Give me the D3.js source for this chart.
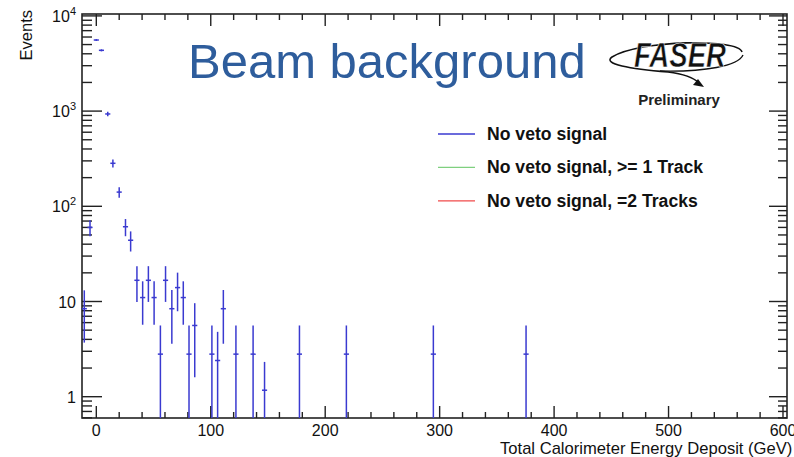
<!DOCTYPE html>
<html>
<head>
<meta charset="utf-8">
<script src="https://cdn.jsdelivr.net/npm/d3@7"></script>
<style>
  html, body { margin: 0; padding: 0; background: #fff; }
  svg { display: block; font-family: "Liberation Sans", Arial, Helvetica, sans-serif; }
</style>
</head>
<body>
<svg id="chart" width="794" height="457"></svg>
<script>
// Total calorimeter energy deposit for events with no veto signal (weighted counts)
const energyGeV = [-10.5, -5.5, 0, 4.5, 10, 14.5, 20, 25.5, 30, 35.5, 40.5, 45.5, 50.5, 56, 60.5,
                   66, 71, 76, 81, 86, 101, 106, 111, 122, 137, 147, 177.5, 218.5, 294.5, 375.5];
const events    = [8.4, 60, 5580, 4350, 933, 283, 141, 61, 44, 16.7, 11, 16.7, 11, 2.8, 16.7,
                   8.4, 14, 11, 2.8, 5.6, 2.8, 2.4, 8.4, 2.8, 2.8, 1.17, 2.8, 2.8, 2.8, 2.8];
const eventErr  = [4.7, 11.5, 125, 110, 51, 28, 18, 12.5, 10.5, 6.8, 5.3, 6.8, 5.3, 2.8, 6.8,
                   4.8, 6.1, 5.3, 2.8, 4.0, 2.8, 2.4, 4.8, 2.8, 2.8, 1.15, 2.8, 2.8, 2.8, 2.8];
const binWidth = 4.5;

const xDomain = [-12.5, 603.5];
const yDomain = [0.5974, 10470];
const xMajorTicks = [0, 100, 200, 300, 400, 500, 600];
const yMajorTicks = [1, 10, 100, 1000, 10000];
const yTickText = [["1", ""], ["10", ""], ["10", "2"], ["10", "3"], ["10", "4"]];

const legendLabels = ["No veto signal", "No veto signal, >= 1 Track", "No veto signal, =2 Tracks"];
const legendColors = ["#3a3ad0", "#7fd07f", "#f04a4a"];

const frame = { left: 82, right: 787, top: 14, bottom: 418 };
const svg = d3.select("#chart");

const x = d3.scaleLinear().domain(xDomain).range([frame.left, frame.right]);
const y = d3.scaleLog().domain(yDomain).range([frame.bottom, frame.top]);

svg.append("defs").append("clipPath").attr("id", "plotClip")
  .append("rect")
  .attr("x", frame.left).attr("y", frame.top)
  .attr("width", frame.right - frame.left).attr("height", frame.bottom - frame.top);

const axisColor = "#222";

// Tick positions
const xMinorTicks = d3.range(0, 601, 20).filter(v => v % 100 !== 0);
const yMinorTicks = [];
for (let e = -1; e < 4; e++) {
  for (let m = 2; m <= 9; m++) {
    const v = m * Math.pow(10, e);
    if (v >= yDomain[0] && v <= yDomain[1]) yMinorTicks.push(v);
  }
}

const ticks = svg.append("g").attr("stroke", axisColor).attr("stroke-width", 1.4);

// bottom & top ticks
xMajorTicks.forEach(v => {
  ticks.append("line").attr("x1", x(v)).attr("x2", x(v)).attr("y1", frame.bottom).attr("y2", frame.bottom - 12);
  ticks.append("line").attr("x1", x(v)).attr("x2", x(v)).attr("y1", frame.top).attr("y2", frame.top + 12);
});
xMinorTicks.forEach(v => {
  ticks.append("line").attr("x1", x(v)).attr("x2", x(v)).attr("y1", frame.bottom).attr("y2", frame.bottom - 6);
  ticks.append("line").attr("x1", x(v)).attr("x2", x(v)).attr("y1", frame.top).attr("y2", frame.top + 6);
});
// left & right ticks
yMajorTicks.forEach(v => {
  ticks.append("line").attr("y1", y(v)).attr("y2", y(v)).attr("x1", frame.left).attr("x2", frame.left + 20);
  ticks.append("line").attr("y1", y(v)).attr("y2", y(v)).attr("x1", frame.right).attr("x2", frame.right - 18);
});
yMinorTicks.forEach(v => {
  ticks.append("line").attr("y1", y(v)).attr("y2", y(v)).attr("x1", frame.left).attr("x2", frame.left + 10);
  ticks.append("line").attr("y1", y(v)).attr("y2", y(v)).attr("x1", frame.right).attr("x2", frame.right - 9);
});

// Frame
svg.append("rect")
  .attr("x", frame.left).attr("y", frame.top)
  .attr("width", frame.right - frame.left).attr("height", frame.bottom - frame.top)
  .attr("fill", "none").attr("stroke", axisColor).attr("stroke-width", 1.6);

// Tick labels
svg.append("g").selectAll("text").data(xMajorTicks).join("text")
  .attr("x", d => x(d)).attr("y", 436)
  .attr("text-anchor", "middle").attr("font-size", 16).attr("fill", "#111")
  .text(d => d);

const yl = svg.append("g").selectAll("text").data(yMajorTicks).join("text")
  .attr("x", 76).attr("y", d => y(d) + 6)
  .attr("text-anchor", "end").attr("font-size", 16).attr("fill", "#111");
yl.each(function(d, i) {
  const t = d3.select(this);
  const [base, sup] = yTickText[i];
  t.append("tspan").text(base);
  if (sup) t.append("tspan").attr("font-size", 11).attr("dy", -7).text(sup);
});

// Axis titles
svg.append("text")
  .attr("transform", "translate(32,10) rotate(-90)")
  .attr("text-anchor", "end").attr("font-size", 16.5).attr("fill", "#111")
  .text("Events");
svg.append("text")
  .attr("x", 500).attr("y", 454)
  .attr("font-size", 16.6).attr("fill", "#111")
  .text("Total Calorimeter Energy Deposit (GeV)");

// Data points with error bars
const pts = svg.append("g").attr("clip-path", "url(#plotClip)")
  .attr("stroke", legendColors[0]).attr("stroke-width", 1.5);
energyGeV.forEach((e, i) => {
  const n = events[i], err = eventErr[i];
  const lo = n - err > yDomain[0] ? n - err : yDomain[0] * 0.5;
  const hi = n + err;
  pts.append("line")
    .attr("x1", x(e)).attr("x2", x(e))
    .attr("y1", y(lo)).attr("y2", y(hi));
  pts.append("line")
    .attr("x1", x(e - binWidth / 2)).attr("x2", x(e + binWidth / 2))
    .attr("y1", y(n)).attr("y2", y(n));
});

// Title
svg.append("text")
  .attr("x", 188).attr("y", 78)
  .attr("font-size", 49).attr("fill", "#2e5d9c")
  .text("Beam background");

// FASER logo
const logo = svg.append("g");
logo.append("path")
  .attr("d", "M 742 52 C 738 38, 640 40, 612 57 C 602 64, 630 69, 668 72 C 684 74, 694 78, 699 83")
  .attr("fill", "none").attr("stroke", "#111").attr("stroke-width", 1.6);
logo.append("path")
  .attr("d", "M 704 87 L 693 85 L 698 79 Z")
  .attr("fill", "#111");
logo.append("path")
  .attr("d", "M 660 71 C 705 72, 738 66, 743 55")
  .attr("fill", "none").attr("stroke", "#111").attr("stroke-width", 1.4);
logo.append("text")
  .attr("x", 634).attr("y", 67)
  .attr("font-size", 35).attr("font-weight", "bold").attr("font-style", "italic")
  .attr("textLength", 92).attr("lengthAdjust", "spacingAndGlyphs")
  .attr("fill", "#111").attr("stroke", "#fff").attr("stroke-width", 0.6)
  .text("FASER");
logo.append("text")
  .attr("x", 679).attr("y", 105)
  .attr("text-anchor", "middle").attr("font-size", 15).attr("font-weight", "bold").attr("fill", "#222")
  .text("Preliminary");

// Legend
const leg = svg.append("g");
legendLabels.forEach((lab, i) => {
  const ly = 134 + i * 33.4;
  leg.append("line").attr("x1", 438).attr("x2", 475).attr("y1", ly).attr("y2", ly)
    .attr("stroke", legendColors[i]).attr("stroke-width", 1.3);
  leg.append("text").attr("x", 487).attr("y", ly + 6)
    .attr("font-size", 17.6).attr("font-weight", "bold").attr("fill", "#111")
    .text(lab);
});
</script>
</body>
</html>
